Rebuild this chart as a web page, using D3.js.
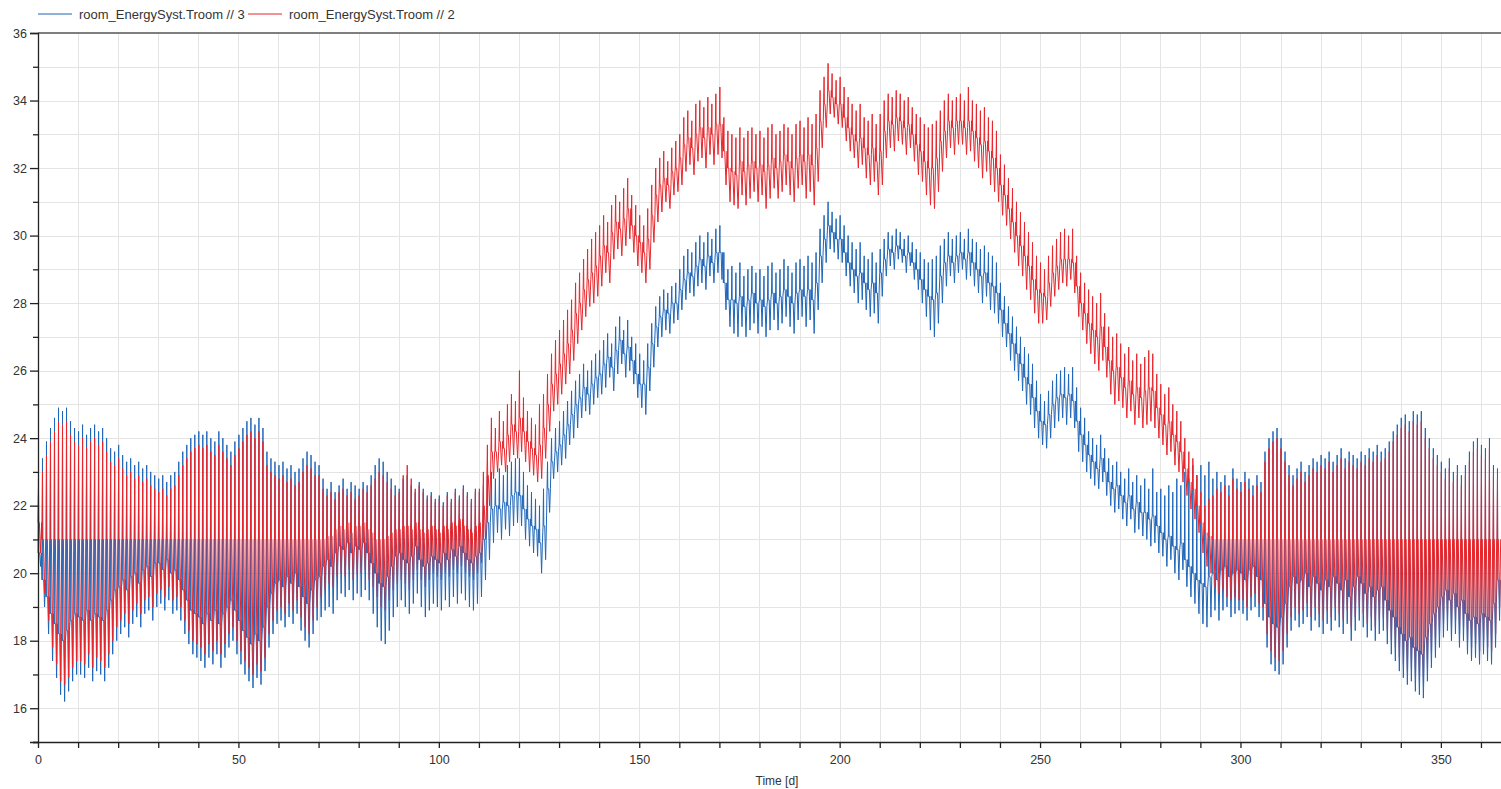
<!DOCTYPE html>
<html>
<head>
<meta charset="utf-8">
<script src="https://cdn.jsdelivr.net/npm/d3@7"></script>
<style>
  html, body { margin: 0; padding: 0; background: #fff; }
  svg { display: block; }
  text { font-family: 'Liberation Sans', Arial, sans-serif; fill: #333; }
</style>
</head>
<body>
<div id="chart"></div>
<script>
// Daily extremes of the room temperature, one value per day (0..364)
const blueHigh = [
  22.8, 23.4, 23.9, 24.3, 24.6, 24.9, 24.8, 24.9, 24.5, 24.3,
  24.2, 24.4, 24.1, 24.3, 24.4, 24.2, 24.3, 24.0, 23.7, 23.6,
  23.8, 23.5, 23.3, 23.4, 23.2, 23.3, 23.1, 23.2, 23.0, 22.9,
  22.8, 22.9, 22.7, 22.9, 23.0, 23.3, 23.6, 23.8, 24.0, 24.1,
  24.2, 24.1, 24.2, 24.0, 23.9, 24.2, 24.0, 23.8, 23.6, 23.9,
  24.1, 24.3, 24.5, 24.6, 24.4, 24.6, 24.3, 23.6, 23.4, 23.3,
  23.2, 23.3, 23.1, 23.2, 23.0, 23.1, 23.4, 23.6, 23.5, 23.3,
  23.2, 22.8, 22.5, 22.7, 22.4, 22.6, 22.8, 22.5, 22.7, 22.6,
  22.5, 22.7, 22.6, 22.9, 23.2, 23.4, 23.3, 23.0, 22.8, 22.6,
  22.5, 22.8, 22.9, 22.6, 22.4, 22.7, 22.5, 22.3, 22.4, 22.2,
  22.3, 22.1, 22.4, 22.2, 22.5, 22.3, 22.6, 22.4, 22.2, 22.5,
  22.4, 22.6, 22.9, 23.0, 22.8, 23.1, 22.9, 23.2, 23.3, 23.4,
  23.4, 23.0, 22.6, 22.4, 22.2, 22.0, 22.5, 23.3, 24.0, 24.3,
  24.5, 24.8, 25.1, 25.4, 25.7, 25.9, 26.2, 26.0, 26.3, 26.5,
  26.6, 26.9, 27.1, 26.8, 27.3, 27.6, 27.2, 27.5, 27.0, 26.8,
  26.5, 26.3, 26.8, 27.4, 27.9, 28.2, 28.4, 28.3, 28.5, 28.6,
  29.0, 29.4, 29.6, 29.5, 29.8, 30.0, 29.8, 30.1, 29.9, 30.2,
  30.3, 29.5, 29.0, 29.1, 28.9, 29.2, 28.8, 29.0, 29.1, 28.9,
  29.0, 28.8, 29.1, 29.2, 28.9, 29.0, 29.3, 29.1, 28.9, 29.2,
  29.3, 29.1, 29.4, 29.2, 29.5, 30.2, 30.6, 31.0, 30.7, 30.5,
  30.6, 30.3, 30.0, 29.8, 29.6, 29.8, 29.4, 29.3, 29.5, 29.2,
  29.6, 29.9, 30.1, 30.0, 30.2, 30.1, 29.9, 30.0, 29.8, 29.6,
  29.5, 29.3, 29.2, 29.3, 29.4, 29.7, 29.9, 30.1, 29.9, 30.0,
  30.1, 29.9, 30.2, 29.9, 29.8, 29.6, 29.7, 29.5, 29.4, 29.2,
  28.6, 28.2, 27.9, 27.6, 27.3, 27.0, 26.7, 26.5, 26.2, 25.7,
  25.3, 25.1, 25.4, 25.7, 25.9, 26.0, 26.1, 25.9, 26.1, 25.5,
  24.9, 24.6, 24.2, 24.0, 23.8, 24.1, 23.7, 23.4, 23.2, 23.3,
  23.0, 22.8, 23.1, 22.7, 22.9, 22.6, 22.8, 22.5, 23.1, 22.4,
  22.5, 22.3, 22.6, 22.4, 22.8, 22.6, 23.0, 22.8, 23.2, 22.9,
  23.2, 22.9, 23.3, 22.8, 23.0, 22.7, 22.9, 22.6, 23.1, 22.8,
  22.7, 23.0, 22.8, 22.6, 22.9, 22.7, 23.6, 24.0, 24.2, 24.3,
  24.0, 23.6, 23.2, 22.9, 23.1, 23.3, 23.0, 23.2, 23.4, 23.3,
  23.5, 23.4, 23.6, 23.3, 23.5, 23.7, 23.4, 23.6, 23.5, 23.4,
  23.6, 23.5, 23.7, 23.6, 23.8, 23.6, 23.7, 23.9, 24.2, 24.4,
  24.6, 24.7, 24.5, 24.8, 24.7, 24.8, 24.3, 24.0, 23.7, 23.5,
  23.3, 23.1, 23.4, 23.0, 23.2, 22.9, 23.2, 23.6, 23.9, 24.0,
  23.8, 23.7, 24.0, 23.2, 23.1
]

const blueLow = [
  20.2, 19.0, 18.2, 17.4, 16.9, 16.4, 16.2, 16.5, 16.8, 17.0,
  17.0, 16.9, 17.2, 16.8, 17.1, 17.0, 16.8, 17.2, 17.6, 18.0,
  18.2, 18.4, 18.1, 18.5, 18.7, 18.4, 18.8, 18.9, 18.6, 19.0,
  19.1, 18.9, 19.2, 18.8, 18.9, 18.6, 18.2, 17.9, 17.6, 17.5,
  17.4, 17.2, 17.5, 17.3, 17.6, 17.2, 17.5, 17.8, 18.0, 17.6,
  17.3, 17.0, 16.8, 16.6, 16.9, 16.7, 17.1, 17.8, 18.2, 18.5,
  18.6, 18.4, 18.7, 18.5, 18.8, 18.3, 18.0, 17.8, 18.2, 18.6,
  18.7, 18.9, 19.0, 18.8, 19.2, 19.4, 19.3, 19.5, 19.2, 19.4,
  19.3, 19.5, 19.2, 18.8, 18.4, 18.0, 17.9, 18.3, 18.7, 19.0,
  19.2, 19.0, 18.8, 19.1, 19.4, 19.0, 18.7, 18.9, 19.1, 19.0,
  18.9, 19.2, 19.0, 19.3, 19.1, 19.4, 19.2, 19.0, 18.9, 19.1,
  19.3, 19.8, 20.4, 20.9, 21.2, 21.0, 21.3, 21.1, 21.4, 21.5,
  21.4, 21.0, 20.8, 20.6, 20.5, 20.0, 20.4, 21.8, 22.8, 23.0,
  23.2, 23.4, 23.8, 24.0, 24.3, 24.6, 24.8, 24.7, 25.0, 25.2,
  25.3, 25.5, 25.8, 25.4, 25.9, 26.2, 25.8, 26.0, 25.6, 25.2,
  24.9, 24.7, 25.4, 26.1, 26.7, 27.0, 27.2, 27.1, 27.4, 27.5,
  27.8, 28.1, 28.3, 28.2, 28.5, 28.6, 28.4, 28.8, 28.6, 28.9,
  28.7, 27.8, 27.3, 27.1, 27.0, 27.3, 27.0, 27.2, 27.4, 27.1,
  27.3, 27.0, 27.2, 27.5, 27.2, 27.4, 27.6, 27.3, 27.1, 27.5,
  27.6, 27.3, 27.5, 27.1, 27.8, 28.6, 29.2, 29.6, 29.5, 29.3,
  29.2, 28.8, 28.5, 28.3, 28.0, 28.1, 27.8, 27.6, 27.7, 27.4,
  28.2, 28.8, 29.1, 29.0, 29.3, 29.2, 28.9, 29.1, 28.7, 28.4,
  28.0, 27.6, 27.2, 27.0, 27.4, 28.0, 28.5, 28.8, 28.6, 28.9,
  29.0, 28.7, 28.8, 28.5, 28.3, 28.0, 28.2, 27.8, 27.7, 27.4,
  27.0, 26.7, 26.3, 26.0, 25.7, 25.4, 25.0, 24.7, 24.3, 24.0,
  23.8, 23.7, 24.0, 24.3, 24.5, 24.6, 24.4, 24.6, 24.3, 23.6,
  23.3, 23.0, 22.8, 22.6, 22.5, 22.7, 22.3, 22.0, 21.8, 21.9,
  21.6, 21.4, 21.6, 21.2, 21.3, 21.1, 21.0, 20.8, 20.9, 20.6,
  20.5, 20.2, 20.4, 20.0, 19.8, 20.1, 19.6, 19.3, 19.1, 18.8,
  18.5, 18.4, 18.7, 18.9, 18.6, 18.9, 19.0, 18.7, 18.8, 18.9,
  18.8, 18.6, 18.9, 19.0, 18.7, 18.6, 17.8, 17.3, 17.1, 17.0,
  17.3, 17.8, 18.3, 18.6, 18.4, 18.5, 18.7, 18.3, 18.6, 18.4,
  18.2, 18.5, 18.3, 18.6, 18.4, 18.2, 18.5, 18.0, 18.3, 18.6,
  18.4, 18.1, 18.3, 18.0, 18.2, 18.3, 17.9, 17.6, 17.4, 17.1,
  16.9, 16.7, 16.8, 16.5, 16.4, 16.3, 16.8, 17.2, 17.5, 17.8,
  18.1, 18.3, 18.0, 18.2, 17.8, 18.0, 17.6, 17.4, 17.5, 17.3,
  17.6, 17.4, 17.3, 17.8, 18.6
]

// level where the blue trace sits for most of the day
const blueMid = [
  20.6, 19.8, 19.3, 18.8, 18.5, 18.2, 18.0, 18.3, 18.6, 18.8,
  18.7, 18.6, 18.9, 18.6, 18.8, 18.7, 18.6, 18.9, 19.2, 19.5,
  19.6, 19.8, 19.5, 19.9, 20.0, 19.7, 20.1, 20.2, 19.9, 20.3,
  20.3, 20.1, 20.4, 20.0, 20.1, 19.8, 19.5, 19.2, 18.9, 18.8,
  18.7, 18.5, 18.8, 18.6, 18.9, 18.5, 18.8, 19.0, 19.2, 18.9,
  18.6, 18.3, 18.1, 17.9, 18.2, 18.0, 18.4, 19.0, 19.4, 19.7,
  19.8, 19.6, 19.9, 19.7, 20.0, 19.6, 19.3, 19.1, 19.5, 19.8,
  19.9, 20.2, 20.4, 20.2, 20.6, 20.8, 20.7, 20.9, 20.6, 20.8,
  20.7, 20.9, 20.6, 20.3, 20.0, 19.7, 19.6, 19.9, 20.2, 20.5,
  20.6, 20.4, 20.3, 20.5, 20.8, 20.4, 20.2, 20.3, 20.5, 20.4,
  20.3, 20.6, 20.4, 20.7, 20.5, 20.8, 20.6, 20.4, 20.3, 20.5,
  20.6, 21.0, 21.5, 21.9, 22.0, 21.9, 22.1, 22.0, 22.3, 22.4,
  22.3, 21.9, 21.6, 21.4, 21.3, 20.9, 21.4, 22.5, 23.3, 23.6,
  23.8, 24.1, 24.4, 24.7, 25.0, 25.2, 25.5, 25.3, 25.6, 25.8,
  25.9, 26.2, 26.4, 26.1, 26.6, 26.9, 26.5, 26.7, 26.3, 25.9,
  25.6, 25.6, 26.1, 26.8, 27.3, 27.6, 27.8, 27.7, 28.0, 28.0,
  28.4, 28.7, 28.9, 28.8, 29.1, 29.3, 29.1, 29.4, 29.2, 29.5,
  29.5, 28.6, 28.1, 28.1, 28.0, 28.2, 27.9, 28.1, 28.3, 28.0,
  28.1, 27.9, 28.1, 28.3, 28.0, 28.2, 28.4, 28.2, 28.0, 28.3,
  28.4, 28.2, 28.4, 28.1, 28.6, 29.4, 29.9, 30.3, 30.1, 29.9,
  29.9, 29.5, 29.2, 29.0, 28.8, 28.9, 28.6, 28.4, 28.6, 28.3,
  28.9, 29.3, 29.6, 29.5, 29.7, 29.6, 29.4, 29.5, 29.2, 29.0,
  28.7, 28.4, 28.2, 28.1, 28.3, 28.8, 29.2, 29.4, 29.2, 29.4,
  29.5, 29.3, 29.5, 29.2, 29.0, 28.8, 28.9, 28.6, 28.5, 28.3,
  27.8, 27.4, 27.1, 26.8, 26.5, 26.2, 25.8, 25.6, 25.2, 24.8,
  24.5, 24.4, 24.7, 25.0, 25.2, 25.3, 25.2, 25.3, 25.1, 24.5,
  24.1, 23.8, 23.5, 23.3, 23.1, 23.4, 23.0, 22.7, 22.5, 22.6,
  22.3, 22.1, 22.3, 21.9, 22.1, 21.8, 21.8, 21.6, 21.7, 21.4,
  21.2, 21.0, 21.1, 20.8, 20.7, 20.9, 20.4, 20.2, 20.0, 19.8,
  19.7, 19.6, 19.9, 20.0, 19.8, 20.1, 20.2, 19.9, 20.0, 20.1,
  20.0, 19.8, 20.1, 20.2, 19.9, 19.8, 19.1, 18.7, 18.5, 18.4,
  18.7, 19.1, 19.6, 19.9, 19.7, 19.8, 20.0, 19.6, 19.9, 19.7,
  19.5, 19.8, 19.6, 19.9, 19.7, 19.5, 19.8, 19.3, 19.6, 19.9,
  19.7, 19.4, 19.6, 19.3, 19.5, 19.6, 19.2, 18.9, 18.7, 18.4,
  18.2, 18.0, 18.1, 17.8, 17.7, 17.6, 18.1, 18.5, 18.8, 19.0,
  19.3, 19.5, 19.2, 19.4, 19.0, 19.2, 18.8, 18.6, 18.7, 18.5,
  18.8, 18.7, 18.6, 19.1, 19.8
]

const redHigh = [
  22.5, 23.0, 23.5, 23.9, 24.2, 24.5, 24.4, 24.5, 24.1, 23.9,
  23.8, 24.0, 23.7, 23.9, 24.0, 23.8, 23.9, 23.6, 23.3, 23.2,
  23.4, 23.1, 22.9, 23.0, 22.8, 22.9, 22.7, 22.8, 22.6, 22.5,
  22.4, 22.5, 22.3, 22.5, 22.6, 22.9, 23.2, 23.4, 23.6, 23.7,
  23.8, 23.7, 23.8, 23.6, 23.5, 23.8, 23.6, 23.4, 23.2, 23.5,
  23.7, 23.9, 24.1, 24.2, 24.0, 24.2, 23.9, 23.2, 23.0, 22.9,
  22.8, 22.9, 22.7, 22.8, 22.6, 22.7, 23.0, 23.2, 23.1, 22.9,
  22.9, 22.5, 22.3, 22.4, 22.2, 22.4, 22.5, 22.3, 22.4, 22.2,
  22.3, 22.5, 22.4, 22.6, 22.8, 23.0, 22.9, 22.7, 22.5, 22.3,
  22.4, 22.9, 23.2, 22.8, 22.5, 22.6, 22.4, 22.2, 22.3, 22.1,
  22.2, 22.0, 22.3, 22.1, 22.4, 22.2, 22.5, 22.3, 22.1, 22.4,
  22.5, 23.0, 23.8, 24.6, 24.3, 24.8, 24.5, 25.0, 25.3, 25.1,
  26.0, 25.2, 24.8, 24.6, 24.4, 25.0, 25.3, 25.9, 26.5, 26.9,
  27.2, 27.5, 27.8, 28.1, 28.6, 28.9, 29.3, 29.6, 29.9, 30.1,
  30.3, 30.6, 30.4, 30.9, 31.2, 31.0, 31.4, 31.7, 31.2, 30.9,
  30.6, 30.3, 30.8, 31.5, 32.0, 32.3, 32.5, 32.2, 32.6, 32.8,
  33.0, 33.5, 33.7, 33.4, 33.9, 34.0, 33.8, 34.1, 33.9, 34.2,
  34.4, 33.5, 33.1, 33.0, 32.9, 33.2, 32.9, 33.1, 33.2, 33.0,
  33.1, 32.9, 33.2, 33.3, 33.0, 33.1, 33.3, 33.2, 33.0, 33.3,
  33.4, 33.2, 33.5, 33.3, 33.6, 34.3, 34.7, 35.1, 34.8, 34.6,
  34.7, 34.4, 34.1, 33.9, 33.7, 33.9, 33.5, 33.4, 33.6, 33.3,
  33.6, 34.0, 34.2, 34.1, 34.3, 34.2, 34.0, 34.1, 33.8, 33.6,
  33.5, 33.3, 33.2, 33.3, 33.4, 33.7, 34.0, 34.2, 34.0, 34.1,
  34.2, 34.0, 34.4, 34.0, 33.9, 33.7, 33.8, 33.5, 33.4, 33.1,
  32.4, 32.1, 31.7, 31.4, 31.0, 30.7, 30.4, 30.1, 29.8, 29.4,
  29.2, 29.0, 29.4, 29.7, 29.9, 30.1, 30.2, 30.0, 30.2, 29.4,
  28.9, 28.6, 28.4, 28.2, 28.0, 28.3, 27.7, 27.3, 27.0, 27.1,
  26.8, 26.5, 26.7, 26.3, 26.5, 26.2, 26.4, 26.6, 26.5, 25.9,
  25.6, 25.3, 25.5, 25.0, 24.8, 24.5, 24.0, 23.6, 23.4, 22.9,
  22.4, 22.0, 22.2, 22.3, 22.5, 22.4, 22.6, 22.3, 22.8, 22.5,
  22.4, 22.7, 22.5, 22.3, 22.6, 22.4, 23.3, 23.7, 23.9, 24.0,
  23.7, 23.3, 22.9, 22.6, 22.8, 23.0, 22.7, 22.9, 23.1, 23.0,
  23.2, 23.1, 23.3, 23.0, 23.2, 23.4, 23.1, 23.3, 23.2, 23.1,
  23.3, 23.2, 23.4, 23.3, 23.5, 23.3, 23.4, 23.6, 23.9, 24.1,
  24.3, 24.4, 24.2, 24.5, 24.4, 24.5, 24.0, 23.7, 23.4, 23.2,
  23.0, 22.8, 23.1, 22.7, 22.9, 22.6, 22.9, 23.3, 23.6, 23.7,
  23.5, 23.4, 23.7, 22.9, 22.8
]

const redLow = [
  20.6, 19.4, 18.6, 17.8, 17.3, 16.8, 16.7, 16.9, 17.2, 17.4,
  17.4, 17.3, 17.6, 17.2, 17.5, 17.4, 17.2, 17.6, 18.0, 18.4,
  18.6, 18.8, 18.5, 18.9, 19.1, 18.8, 19.2, 19.3, 19.0, 19.4,
  19.5, 19.3, 19.6, 19.2, 19.3, 19.0, 18.6, 18.3, 18.0, 17.9,
  17.8, 17.6, 17.9, 17.7, 18.0, 17.6, 17.9, 18.2, 18.4, 18.0,
  17.7, 17.4, 17.2, 17.0, 17.3, 17.1, 17.5, 18.2, 18.6, 18.9,
  19.0, 18.8, 19.1, 18.9, 19.2, 18.7, 18.4, 18.2, 18.6, 19.0,
  19.3, 19.5, 19.7, 19.6, 19.9, 20.0, 19.9, 20.1, 19.8, 20.0,
  20.0, 20.1, 19.8, 19.6, 19.3, 19.0, 18.9, 19.2, 19.5, 19.7,
  19.8, 19.7, 19.5, 19.8, 20.1, 19.8, 19.6, 19.8, 20.0, 19.9,
  19.8, 20.0, 19.9, 20.1, 20.0, 20.2, 20.0, 19.9, 19.8, 20.0,
  20.3, 21.0, 22.0, 22.8, 23.0, 23.2, 23.0, 23.3, 23.5, 23.4,
  23.6, 23.3, 23.0, 22.9, 22.7, 22.8, 23.4, 24.2, 24.8, 25.0,
  25.3, 25.6, 25.9, 26.3, 26.8, 27.2, 27.6, 27.9, 28.0, 28.2,
  28.5, 28.9, 28.6, 29.3, 29.6, 29.4, 29.7, 29.9, 29.5, 29.1,
  28.9, 28.6, 29.0, 29.8, 30.4, 30.7, 31.0, 30.8, 31.2, 31.3,
  31.5, 31.9, 32.1, 31.8, 32.2, 32.3, 32.0, 32.4, 32.1, 32.4,
  32.3, 31.5, 31.0, 30.9, 30.8, 31.2, 30.9, 31.1, 31.3, 31.0,
  31.2, 30.8, 31.1, 31.4, 31.1, 31.3, 31.5, 31.2, 31.0, 31.4,
  31.5, 31.1, 31.3, 30.9, 31.6, 32.6, 33.2, 33.6, 33.5, 33.3,
  33.2, 32.8, 32.5, 32.3, 32.0, 32.1, 31.7, 31.5, 31.6, 31.2,
  31.5, 32.3, 32.6, 32.5, 32.8, 32.7, 32.4, 32.6, 32.2, 31.8,
  31.6, 31.2, 30.9, 30.8, 31.3, 31.9, 32.3, 32.6, 32.4, 32.7,
  32.7, 32.4, 32.5, 32.2, 32.0, 31.7, 31.9, 31.5, 31.3, 31.0,
  30.6, 30.3, 29.9, 29.5, 29.1, 28.8, 28.4, 28.1, 27.7, 27.4,
  27.4, 27.5, 27.9, 28.2, 28.4, 28.6, 28.5, 28.7, 28.3, 27.6,
  27.2, 26.8, 26.5, 26.2, 26.0, 26.3, 25.8, 25.3, 25.0, 25.1,
  24.9, 24.6, 24.8, 24.4, 24.6, 24.3, 24.4, 24.5, 24.3, 24.0,
  23.8, 23.5, 23.6, 23.2, 23.0, 22.7, 22.3, 21.9, 21.6, 21.2,
  20.6, 20.2, 20.0, 19.6, 19.4, 19.5, 19.3, 19.2, 19.3, 19.2,
  19.2, 19.0, 19.3, 19.4, 19.1, 19.0, 18.2, 17.7, 17.5, 17.4,
  17.7, 18.2, 18.7, 19.0, 18.8, 18.9, 19.1, 18.7, 19.0, 18.8,
  18.6, 18.9, 18.7, 19.0, 18.8, 18.6, 18.9, 18.4, 18.7, 19.0,
  18.8, 18.5, 18.7, 18.4, 18.6, 18.7, 18.3, 18.0, 17.8, 17.5,
  17.3, 17.1, 17.2, 16.9, 16.8, 16.7, 17.2, 17.6, 17.9, 18.2,
  18.5, 18.7, 18.4, 18.6, 18.2, 18.4, 18.0, 17.8, 17.9, 17.7,
  18.0, 17.8, 17.7, 18.2, 19.0
]

// level the red trace holds between the swings (heating setpoint in winter)
const redMid = [
  21.5, 21, 21, 21, 21, 21, 21, 21, 21, 21,
  21, 21, 21, 21, 21, 21, 21, 21, 21, 21,
  21, 21, 21, 21, 21, 21, 21, 21, 21, 21,
  21, 21, 21, 21, 21, 21, 21, 21, 21, 21,
  21, 21, 21, 21, 21, 21, 21, 21, 21, 21,
  21, 21, 21, 21, 21, 21, 21, 21, 21, 21,
  21, 21, 21, 21, 21, 21, 21, 21, 21, 21,
  21.0, 21.0, 21.1, 21.1, 21.3, 21.4, 21.3, 21.5, 21.2, 21.4,
  21.4, 21.5, 21.3, 21.2, 21.0, 21.0, 21.0, 21.1, 21.2, 21.3,
  21.3, 21.4, 21.4, 21.3, 21.5, 21.3, 21.2, 21.3, 21.4, 21.3,
  21.2, 21.4, 21.3, 21.5, 21.4, 21.6, 21.4, 21.3, 21.2, 21.4,
  21.5, 22.0, 22.9, 23.6, 23.6, 23.9, 23.7, 24.1, 24.4, 24.2,
  24.6, 24.2, 23.9, 23.7, 23.5, 23.8, 24.3, 25.0, 25.6, 25.9,
  26.2, 26.5, 26.8, 27.2, 27.7, 28.0, 28.4, 28.7, 28.9, 29.1,
  29.4, 29.7, 29.5, 30.1, 30.4, 30.2, 30.5, 30.8, 30.3, 30.0,
  29.8, 29.5, 29.9, 30.6, 31.2, 31.5, 31.7, 31.5, 31.9, 32.0,
  32.3, 32.7, 32.9, 32.6, 33.0, 33.2, 32.9, 33.2, 33.0, 33.3,
  33.3, 32.5, 32.0, 31.9, 31.8, 32.2, 31.9, 32.1, 32.2, 32.0,
  32.1, 31.9, 32.1, 32.3, 32.0, 32.2, 32.4, 32.2, 32.0, 32.3,
  32.4, 32.2, 32.4, 32.1, 32.6, 33.4, 33.9, 34.3, 34.1, 33.9,
  33.9, 33.5, 33.2, 33.0, 32.8, 32.9, 32.6, 32.4, 32.6, 32.2,
  32.5, 33.1, 33.4, 33.3, 33.5, 33.4, 33.2, 33.3, 33.0, 32.7,
  32.5, 32.2, 32.0, 32.0, 32.3, 32.8, 33.1, 33.4, 33.2, 33.4,
  33.4, 33.2, 33.4, 33.1, 32.9, 32.7, 32.8, 32.5, 32.3, 32.0,
  31.5, 31.2, 30.8, 30.4, 30.0, 29.7, 29.4, 29.1, 28.7, 28.4,
  28.3, 28.2, 28.6, 28.9, 29.1, 29.3, 29.3, 29.3, 29.2, 28.5,
  28.0, 27.7, 27.4, 27.2, 27.0, 27.3, 26.7, 26.3, 26.0, 26.1,
  25.8, 25.5, 25.7, 25.3, 25.5, 25.2, 25.4, 25.5, 25.4, 24.9,
  24.7, 24.4, 24.5, 24.1, 23.9, 23.6, 23.1, 22.7, 22.5, 22.0,
  21.5, 21.2, 21.1, 21, 21, 21, 21, 21, 21, 21,
  21, 21, 21, 21, 21, 21, 21, 21, 21, 21,
  21, 21, 21, 21, 21, 21, 21, 21, 21, 21,
  21, 21, 21, 21, 21, 21, 21, 21, 21, 21,
  21, 21, 21, 21, 21, 21, 21, 21, 21, 21,
  21, 21, 21, 21, 21, 21, 21, 21, 21, 21,
  21, 21, 21, 21, 21, 21, 21, 21, 21, 21,
  21, 21, 21, 21, 21
]

const seriesNames = ['room_EnergySyst.Troom // 3', 'room_EnergySyst.Troom // 2']
const xTicks = d3.range(0, 361, 10)
const xLabels = [0, 50, 100, 150, 200, 250, 300, 350]
const yTicks = d3.range(15, 37, 1)
const yLabels = [16, 18, 20, 22, 24, 26, 28, 30, 32, 34, 36]

const W = 1501
const H = 789
const BLUE = '#1f66b9'
const RED = '#e8262c'
// where inside a day each stored value is placed (fraction of the day)
// blue: level, sharp peak, level, hold, dip, level
const BLUE_PHASE = [['mid', 0], ['high', 0.12], ['mid', 0.19], ['mid', 0.42], ['low', 0.64], ['mid', 0.84]]
// red: setpoint, sharp peak, setpoint, slow fall, quick recovery
const RED_PHASE = [['mid', 0], ['high', 0.12], ['mid', 0.18], ['mid', 0.34], ['low', 0.66], ['mid', 0.92]]

const days = blueHigh.map((_, i) => i)

const x = d3.scaleLinear().domain([0, 365]).range([38, 1501])
const y = d3.scaleLinear().domain([15, 36]).range([742, 33])

const svg = d3.select('#chart').append('svg')
  .attr('width', W).attr('height', H)
  .style('background', '#fff')

// grid
const grid = svg.append('g').attr('stroke', '#e4e4e4').attr('stroke-width', 1)
grid.selectAll('.vg').data(xTicks.filter(t => t > 0))
  .enter().append('line')
  .attr('x1', d => Math.round(x(d)) + 0.5).attr('x2', d => Math.round(x(d)) + 0.5)
  .attr('y1', y(36)).attr('y2', y(15))
grid.selectAll('.hg').data(yTicks.filter(t => t > 15 && t < 36))
  .enter().append('line')
  .attr('x1', x(0)).attr('x2', W)
  .attr('y1', d => Math.round(y(d)) + 0.5).attr('y2', d => Math.round(y(d)) + 0.5)

function dailyPoints(high, low, mid, phases) {
  const src = { high, low, mid }
  const pts = []
  days.forEach(d => {
    for (const [key, t] of phases) pts.push([d + t, src[key][d]])
  })
  return pts
}

const line = d3.line().x(p => x(p[0])).y(p => y(p[1]))

const plot = svg.append('g')
plot.append('path')
  .datum(dailyPoints(blueHigh, blueLow, blueMid, BLUE_PHASE))
  .attr('fill', 'none')
  .attr('stroke', BLUE)
  .attr('stroke-width', 1)
  .attr('d', line)
plot.append('path')
  .datum(dailyPoints(redHigh, redLow, redMid, RED_PHASE))
  .attr('fill', 'none')
  .attr('stroke', RED)
  .attr('stroke-width', 1)
  .attr('d', line)

// top frame
svg.append('line')
  .attr('x1', x(0)).attr('x2', W)
  .attr('y1', y(36)).attr('y2', y(36))
  .attr('stroke', '#555').attr('stroke-width', 1.6)

// y axis: long ticks with labels, short ticks in between
svg.append('g')
  .attr('transform', `translate(${x(0)},0)`)
  .call(d3.axisLeft(y).tickValues(yLabels).tickSize(8).tickPadding(3).tickFormat(d3.format('d')))
svg.append('g')
  .attr('transform', `translate(${x(0)},0)`)
  .call(d3.axisLeft(y).tickValues(yTicks.filter(t => t % 2 === 1)).tickSize(5).tickFormat(''))
  .select('.domain').remove()

// x axis
const xAxis = svg.append('g')
  .attr('transform', `translate(0,${y(15)})`)
  .call(d3.axisBottom(x).tickValues(xTicks).tickSize(6).tickPadding(7)
    .tickFormat(d => xLabels.includes(d) ? d : ''))
xAxis.select('.domain').attr('d', `M${x(0) - 5},0.5H${W}`)

svg.selectAll('.tick text')
  .attr('font-family', "'Liberation Sans', Arial, sans-serif")
  .attr('font-size', 12.5)
  .attr('fill', '#333')
svg.selectAll('.domain, .tick line')
  .attr('stroke', '#222')
  .attr('stroke-width', 1.3)

svg.append('text')
  .attr('x', 777).attr('y', 785)
  .attr('text-anchor', 'middle')
  .attr('font-size', 12)
  .text('Time [d]')

// legend
const legend = svg.append('g')
const legendX = [38, 248]
seriesNames.forEach((name, i) => {
  const g = legend.append('g').attr('transform', `translate(${legendX[i]},14)`)
  g.append('line').attr('x1', 0).attr('x2', 34).attr('y1', 0).attr('y2', 0)
    .attr('stroke', i === 0 ? BLUE : RED).attr('stroke-width', 1.2)
  g.append('text').attr('x', 41).attr('y', 4.5)
    .attr('font-size', 13)
    .text(name)
})
</script>
</body>
</html>
